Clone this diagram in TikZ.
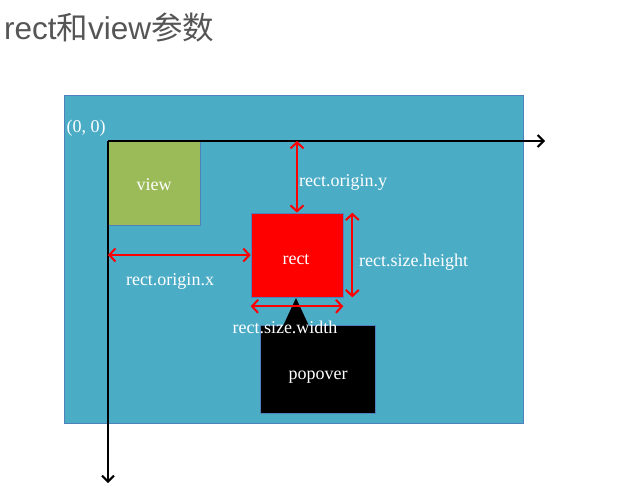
\documentclass[tikz,border=0pt]{standalone}
\usepackage{fontspec}
\setmainfont{Liberation Serif}
\newfontfamily\titlefont{Liberation Sans}
\newfontfamily\cjk{Noto Sans CJK SC}
\usetikzlibrary{arrows.meta}
\definecolor{canvasblue}{HTML}{4BACC6}
\definecolor{edgeblue}{HTML}{4F81BD}
\definecolor{viewgreen}{HTML}{9BBB59}
\definecolor{titlegray}{HTML}{555555}
\tikzset{
  box/.style={draw=edgeblue, line width=0.6pt, inner sep=0pt},
  lbl/.style={text=white, font=\fontsize{18}{20}\selectfont, inner sep=0pt},
  axis/.style={line width=2pt, -{Straight Barb[length=6pt,width=12pt,line width=2pt]}},
  dim/.style={draw=red, line width=2pt, {Straight Barb[length=6pt,width=13pt,line width=2pt]}-{Straight Barb[length=6pt,width=13pt,line width=2pt]}},
}
\begin{document}
\begin{tikzpicture}[x=1pt,y=-1pt]
\useasboundingbox[fill=white] (0,0) rectangle (640,485);
\node[anchor=west, text=titlegray, inner sep=0pt, font=\fontsize{31.5}{34}\selectfont] (title) at (4,27) {{\titlefont rect}{\cjk 和}{\titlefont view}{\cjk 参数}};
\node[box, fill=canvasblue, minimum width=459pt, minimum height=328pt] (canvas) at (293.5,259) {};
\node[box, fill=viewgreen, minimum width=92pt, minimum height=84pt] (view) at (154,183) {};
\node[box, fill=red, minimum width=92pt, minimum height=84pt] (rect) at (297,255) {};
\node[box, fill=black, minimum width=115pt, minimum height=88pt] (popover) at (317.5,369) {};
\node[lbl] (viewtext) at (154,185) {view};
\node[lbl] (recttext) at (296,260) {rect};
\node[lbl] (popovertext) at (318,377) {popover};
\fill[black] (296,298) -- (283,326) -- (309,326) -- cycle;
\coordinate (O) at (108,141);
\coordinate (xend) at (545,141);
\coordinate (yend) at (108,483);
\draw[axis] (O) -- (xend);
\draw[axis] (O) -- (yend);
\node[lbl] (origin) at (86,128) {(0, 0)};
\draw[dim] (rect.north |- O) -- (rect.north);
\draw[dim] (O |- rect.west) -- (rect.west);
\draw[dim] ([xshift=9pt]rect.north east) -- ([xshift=9pt]rect.south east);
\draw[dim] ([yshift=-9pt]rect.south west) -- ([yshift=-9pt]rect.south east);
\node[lbl, anchor=west] (oy) at (299,182) {rect.origin.y};
\node[lbl] (ox) at (170,281) {rect.origin.x};
\node[lbl, anchor=west] (sh) at (359,262) {rect.size.height};
\node[lbl] (sw) at (285,327) {rect.size.width};
\end{tikzpicture}
\end{document}
